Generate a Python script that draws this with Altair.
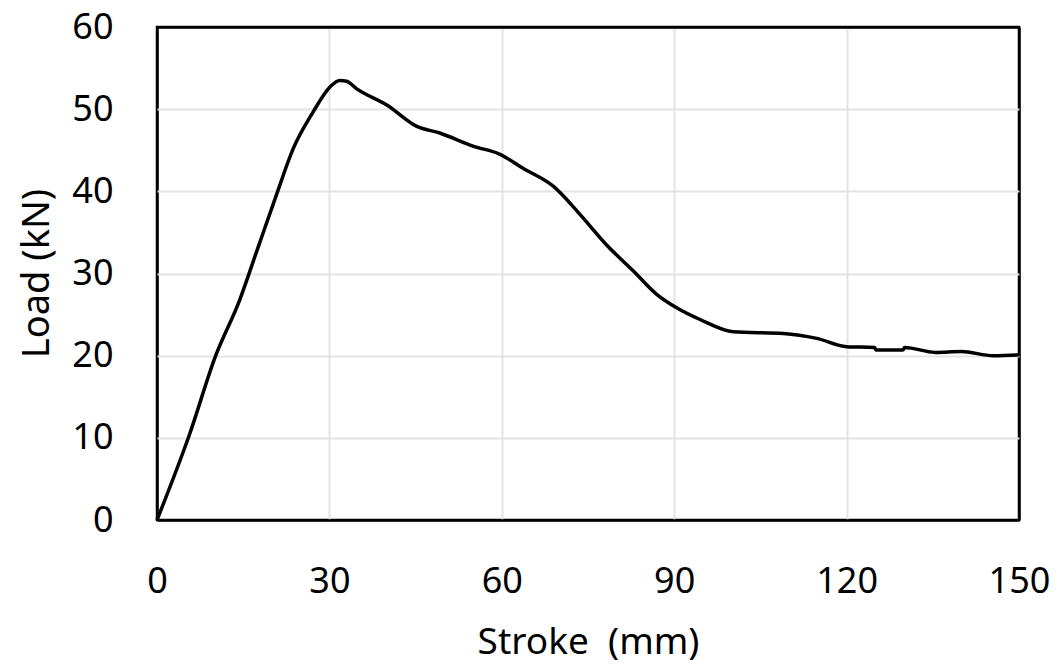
import altair as alt
import pandas as pd

stroke = [0, 5.7, 10.1, 14.4, 17.5, 20.8, 23.7, 27.2, 30.1, 31.8, 33.0, 34.7, 40.0, 45.2,
          49.2, 55.0, 59.7, 63.7, 69.0, 73.6, 78.2, 82.9, 86.9, 90.5, 94.5, 100.3, 109.0,
          114.8, 120.0, 124.9, 125.1, 129.8, 130.1, 135.4, 140.0, 145.5, 150.0]
load = [0, 10.5, 19.8, 26.8, 33.0, 39.6, 45.2, 49.7, 52.7, 53.5, 53.4, 52.5, 50.5, 47.9,
        47.1, 45.5, 44.5, 42.8, 40.6, 37.2, 33.5, 30.3, 27.5, 25.8, 24.4, 22.9, 22.7,
        22.1, 21.1, 21.0, 20.7, 20.7, 21.0, 20.4, 20.5, 20.0, 20.1]

x_ticks = [0, 30, 60, 90, 120, 150]
y_ticks = [0, 10, 20, 30, 40, 50, 60]

df = pd.DataFrame({"stroke": stroke, "load": load})

FONT = "Noto Sans"

x_edge = "datum.value === 0 || datum.value === 150"
y_edge = "datum.value === 0 || datum.value === 60"


def grid_color(test):
    return {"condition": {"test": test, "value": "black"}, "value": "#e3e3e3"}


def grid_width(test):
    return {"condition": {"test": test, "value": 2.5}, "value": 2}


chart = alt.Chart(df).mark_line(color="black", strokeWidth=3.5, interpolate="monotone").encode(
    x=alt.X("stroke:Q", scale=alt.Scale(domain=[0, 150], nice=False),
            axis=alt.Axis(values=x_ticks, title="Stroke\u00a0 (mm)", grid=True, domain=False,
                          ticks=False, labelPadding=44, labelFontSize=36, titleFontSize=37,
                          labelFont=FONT, titleFont=FONT, labelColor="black", titleColor="black",
                          titleFontWeight="normal", titleY=122, titleBaseline="middle",
                          labelFlush=False, gridColor=grid_color(x_edge),
                          gridWidth=grid_width(x_edge))),
    y=alt.Y("load:Q", scale=alt.Scale(domain=[0, 60], nice=False),
            axis=alt.Axis(values=y_ticks, title="Load (kN)", grid=True, domain=False,
                          ticks=False, labelPadding=44, labelFontSize=36, titleFontSize=38,
                          labelFont=FONT, titleFont=FONT, labelColor="black", titleColor="black",
                          titleFontWeight="normal", titleX=-120, titleY=246, titleAngle=270,
                          titleAlign="center", titleBaseline="middle", labelFlush=False,
                          gridColor=grid_color(y_edge), gridWidth=grid_width(y_edge))),
).properties(
    width=862, height=493, autosize="none", background="white",
    padding={"left": 149, "top": 19, "right": 30, "bottom": 146},
).configure_view(
    stroke="black", strokeWidth=2.5,
)

chart.save("out.html", embed_options={"renderer": "svg", "actions": False})
